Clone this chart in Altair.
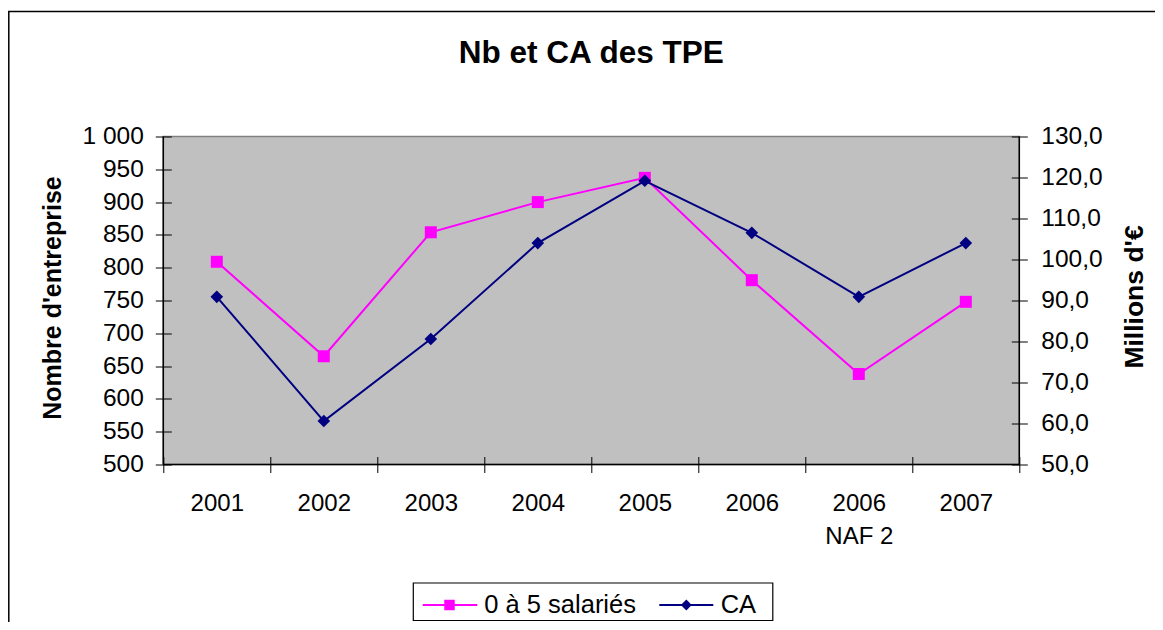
import altair as alt
import pandas as pd

# ---------------- data ----------------
categories = ["2001", "2002", "2003", "2004", "2005", "2006", "2006 NAF 2", "2007"]
nb_tpe = [809, 665, 854, 900, 937, 781, 638, 748]          # left axis
ca_meur = [90.9, 60.6, 80.6, 104.0, 119.2, 106.5, 90.9, 104.0]  # right axis
series_names = ["0 à 5 salariés", "CA"]
left_ticks = list(range(500, 1001, 50))
right_ticks = list(range(50, 131, 10))
chart_title = "Nb et CA des TPE"
left_title = "Nombre d'entreprise"
right_title = "Millions d'€"

# ---------------- style ----------------
W, H = 856, 328
FONT = "Liberation Sans"
PINK = "#FF00FF"
NAVY = "#000080"

df = pd.DataFrame({"annee": categories, "nb": nb_tpe, "ca": ca_meur})
one = pd.DataFrame({"k": [0]})

x_enc = alt.X(
    "annee:N",
    sort=categories,
    scale=alt.Scale(type="band", paddingInner=0, paddingOuter=0),
    axis=alt.Axis(
        title=None,
        labelAngle=0,
        labelExpr="datum.value == '2006 NAF 2' ? ['2006', 'NAF 2'] : datum.value",
        labelFontSize=24,
        labelColor="black",
        labelPadding=18.5,
        labelLineHeight=33,
        tickBand="extent",
        tickSize=16,
        offset=-8,
        domain=False,
        grid=False,
        tickColor="black",
        tickWidth=1,
    ),
)

y_left = alt.Y(
    "nb:Q",
    scale=alt.Scale(domain=[500, 1000], nice=False, zero=False),
    axis=alt.Axis(
        orient="left",
        values=left_ticks,
        labelExpr="replace(format(datum.value, ','), ',', ' ')",
        title=left_title,
        titleFontSize=25,
        titleFontWeight="bold",
        titleAngle=270,
        titleBaseline="alphabetic",
        titleAlign="center",
        titleX=-110.5,
        titleY=161,
        titleColor="black",
        labelFontSize=24.5,
        labelColor="black",
        labelPadding=12,
        labelOverlap=False,
        tickSize=16,
        offset=-8,
        domain=False,
        grid=False,
        tickColor="black",
        tickWidth=1,
    ),
)

y_right = alt.Y(
    "ca:Q",
    scale=alt.Scale(domain=[50, 130], nice=False, zero=False),
    axis=alt.Axis(
        orient="right",
        values=right_ticks,
        labelExpr="replace(format(datum.value, '.1f'), '.', ',')",
        title=right_title,
        titleFontSize=26.5,
        titleFontWeight="bold",
        titleAngle=270,
        titleBaseline="alphabetic",
        titleAlign="center",
        titleX=131,
        titleY=160,
        titleColor="black",
        labelFontSize=24.5,
        labelColor="black",
        labelPadding=13.5,
        labelOverlap=False,
        tickSize=16,
        offset=-8,
        domain=False,
        grid=False,
        tickColor="black",
        tickWidth=1,
    ),
)

base = alt.Chart(df)
pink = alt.layer(
    base.mark_line(color=PINK, strokeWidth=2).encode(x=x_enc, y=y_left),
    base.mark_point(filled=True, shape="square", size=144, color=PINK, opacity=1).encode(x=x_enc, y=y_left),
)
navy = alt.layer(
    base.mark_line(color=NAVY, strokeWidth=2).encode(x=x_enc, y=y_right),
    base.mark_point(filled=True, shape="diamond", size=160, color=NAVY, opacity=1).encode(x=x_enc, y=y_right),
)

# ---------------- decorations ----------------
d = alt.Chart(one)
frame = [
    d.mark_rule(color="black", strokeWidth=1.5).encode(x=alt.value(0), y=alt.value(0), y2=alt.value(H)),
    d.mark_rule(color="black", strokeWidth=1.5).encode(x=alt.value(0), x2=alt.value(W), y=alt.value(H)),
    d.mark_rule(color="black", strokeWidth=1.5).encode(x=alt.value(W), y=alt.value(0), y2=alt.value(H)),
    d.mark_rect(fillOpacity=0, stroke="black", strokeWidth=1.5).encode(
        x=alt.value(-154.5), x2=alt.value(1000), y=alt.value(-125), y2=alt.value(520)
    ),
]

title_mark = d.mark_text(
    font=FONT, fontSize=31.5, fontWeight="bold", color="black", align="center", baseline="alphabetic"
).encode(x=alt.value(W / 2), y=alt.value(-73.2), text=alt.value(chart_title))

# legend
LEG_Y = 468.5
legend = [
    d.mark_rect(fill="white", stroke="black", strokeWidth=1.2).encode(
        x=alt.value(250), x2=alt.value(609.5), y=alt.value(446.5), y2=alt.value(484)
    )
]
leg_specs = [
    (series_names[0], PINK, "square", 110, 259.4, 314.0, 286.2, 321.0),
    (series_names[1], NAVY, "diamond", 120, 496.0, 550.0, 523.0, 557.4),
]
for name, col, shp, sz, x0, x1, xm, xt in leg_specs:
    legend.append(d.mark_rule(color=col, strokeWidth=2).encode(x=alt.value(x0), x2=alt.value(x1), y=alt.value(LEG_Y)))
    legend.append(d.mark_point(filled=True, shape=shp, size=sz, color=col, opacity=1).encode(x=alt.value(xm), y=alt.value(LEG_Y)))
    legend.append(
        d.mark_text(font=FONT, fontSize=25.5, color="black", align="left", baseline="middle").encode(
            x=alt.value(xt), y=alt.value(LEG_Y), text=alt.value(name)
        )
    )

chart = (
    alt.layer(pink, navy, *frame, title_mark, *legend)
    .resolve_scale(y="independent")
    .properties(
        width=W,
        height=H,
        autosize=alt.AutoSizeParams(type="none"),
        padding={"left": 155.3, "top": 128.5, "right": 135.7, "bottom": 157.5},
        background="white",
    )
    .configure(font=FONT)
    .configure_view(fill="#C0C0C0", stroke="#808080", strokeWidth=1.5)
    .configure_axis(labelFont=FONT, titleFont=FONT)
)

chart.save("out.html", embed_options={"renderer": "svg", "actions": False})
